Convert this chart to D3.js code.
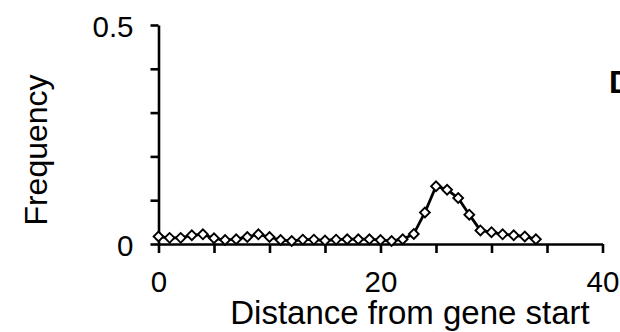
<!DOCTYPE html>
<html><head><meta charset="utf-8">
<script src="https://cdn.jsdelivr.net/npm/d3@7"></script>
<style>
html,body{margin:0;padding:0;background:#fff;}
svg{display:block;font-family:"Liberation Sans",Arial,sans-serif;}
</style></head>
<body>
<svg id="chart" width="620" height="332"></svg>
<script>
const positions = [0,1,2,3,4,5,6,7,8,9,10,11,12,13,14,15,16,17,18,19,20,21,22,23,24,25,26,27,28,29,30,31,32,33,34];
const frequency = [0.017,0.014,0.014,0.020,0.022,0.013,0.009,0.011,0.016,0.022,0.016,0.009,0.007,0.010,0.010,0.008,0.010,0.011,0.011,0.011,0.009,0.007,0.011,0.023,0.072,0.132,0.124,0.105,0.067,0.031,0.027,0.022,0.020,0.017,0.011];
const xTicks = [0,5,10,15,20,25,30,35,40];
const xTickLabels = {0:"0",20:"20",40:"40"};
const yTicks = [0,0.1,0.2,0.3,0.4,0.5];
const yTickLabels = {0:"0",0.5:"0.5"};
const xTitle = "Distance from gene start";
const yTitle = "Frequency";
const panelLetter = "D";

const svg = d3.select("#chart");
const x = d3.scaleLinear().domain([0,40]).range([158.5,602.5]);
const y = d3.scaleLinear().domain([0,0.5]).range([244,25]);

const fontSize = 29.5;

// y axis
const yAxis = d3.axisLeft(y).tickValues(yTicks).tickSizeInner(8).tickSizeOuter(0).tickPadding(17)
  .tickFormat(d => yTickLabels[d] !== undefined ? yTickLabels[d] : "");
const gy = svg.append("g").attr("transform",`translate(${x(0)},0)`).call(yAxis);
gy.select(".domain").attr("stroke","#000").attr("stroke-width",2.6);
gy.selectAll(".tick line").attr("stroke","#000").attr("stroke-width",2.6);
gy.selectAll(".tick text").attr("font-size",fontSize).attr("fill","#000").attr("dy","0.38em").attr("font-family","Liberation Sans, Arial, sans-serif");

// x axis
const xAxis = d3.axisBottom(x).tickValues(xTicks).tickSizeInner(9).tickSizeOuter(0).tickPadding(18)
  .tickFormat(d => xTickLabels[d] !== undefined ? xTickLabels[d] : "");
const gx = svg.append("g").attr("transform",`translate(0,${y(0)})`).call(xAxis);
gx.select(".domain").attr("stroke","#000").attr("stroke-width",2.6);
gx.selectAll(".tick line").attr("stroke","#000").attr("stroke-width",2.6);
gx.selectAll(".tick text").attr("font-size",fontSize).attr("fill","#000").attr("font-family","Liberation Sans, Arial, sans-serif");

// line
const line = d3.line().x((d,i)=>x(positions[i])).y(d=>y(d));
svg.append("path").datum(frequency).attr("d",line).attr("fill","none").attr("stroke","#000").attr("stroke-width",2.8).attr("stroke-linejoin","round");

// diamonds
svg.append("g").selectAll("path").data(frequency).join("path")
  .attr("d",d3.symbol().type(d3.symbolSquare).size(48))
  .attr("transform",(d,i)=>`translate(${x(positions[i])},${y(d)}) rotate(45)`)
  .attr("fill","#fff").attr("stroke","#000").attr("stroke-width",1.9);

// titles
svg.append("text").attr("x",410).attr("y",324).attr("text-anchor","middle")
  .attr("font-size",33).attr("fill","#000").text(xTitle);
svg.append("text").attr("transform","translate(47,150) rotate(-90)").attr("text-anchor","middle")
  .attr("font-size",32).attr("fill","#000").text(yTitle);
svg.append("text").attr("x",609).attr("y",93).attr("font-size",32).attr("font-weight","bold")
  .attr("fill","#000").text(panelLetter);
</script>
</body></html>
